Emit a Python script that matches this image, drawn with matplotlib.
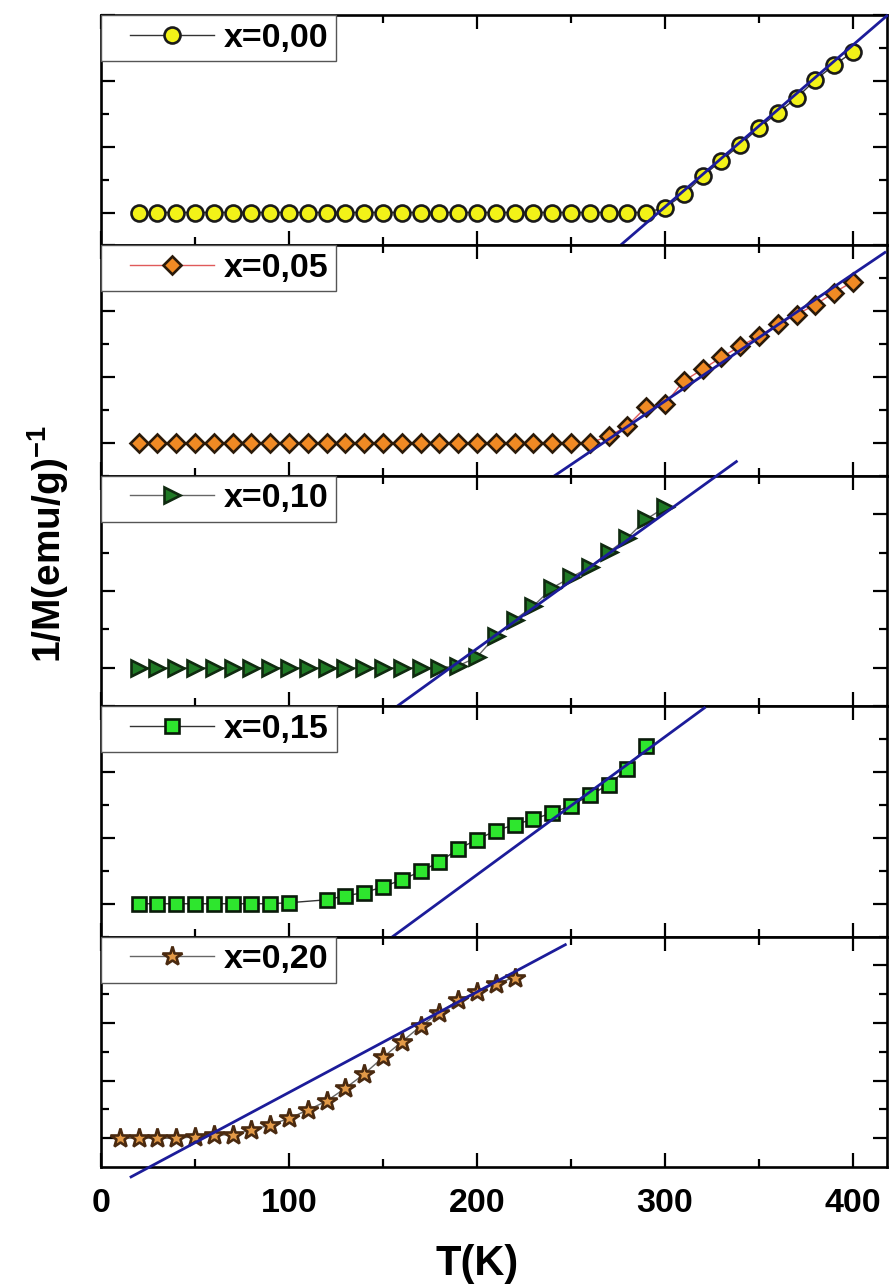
import matplotlib
matplotlib.use("Agg")
import matplotlib.pyplot as plt
from matplotlib.legend_handler import HandlerLine2D
import numpy as np

plt.rcParams['font.family'] = ['Liberation Sans', 'DejaVu Sans']
plt.rcParams['font.weight'] = 'bold'
plt.rcParams['mathtext.fontset'] = 'custom'
plt.rcParams['mathtext.rm'] = 'Liberation Sans:bold'
plt.rcParams['mathtext.bf'] = 'Liberation Sans:bold'
plt.rcParams['mathtext.default'] = 'bf'

# x = 0,00
T_a = [20, 30, 40, 50, 60, 70, 80, 90, 100, 110, 120, 130, 140, 150, 160, 170, 180, 190, 200,
       210, 220, 230, 240, 250, 260, 270, 280, 290, 300, 310, 320, 330, 340, 350, 360, 370,
       380, 390, 400]
M_a = [0, 0, 0, 0, 0, 0, 0, 0, 0, 0, 0, 0, 0, 0, 0, 0, 0, 0, 0,
       0, 0, 0, 0, 0, 0, 0, 0, 0, 0.15, 0.55, 1.10, 1.58, 2.06, 2.58, 3.03, 3.48,
       4.03, 4.48, 4.88]

# x = 0,05
T_b = [20, 30, 40, 50, 60, 70, 80, 90, 100, 110, 120, 130, 140, 150, 160, 170, 180, 190, 200,
       210, 220, 230, 240, 250, 260, 270, 280, 290, 300, 310, 320, 330, 340, 350, 360, 370,
       380, 390, 400]
M_b = [0, 0, 0, 0, 0, 0, 0, 0, 0, 0, 0, 0, 0, 0, 0, 0, 0, 0, 0,
       0, 0, 0, 0, 0, 0, 0.20, 0.52, 1.09, 1.18, 1.88, 2.24, 2.60, 2.94, 3.24, 3.60, 3.90,
       4.20, 4.57, 4.90]

# x = 0,10
T_c = [20, 30, 40, 50, 60, 70, 80, 90, 100, 110, 120, 130, 140, 150, 160, 170, 180, 190, 200,
       210, 220, 230, 240, 250, 260, 270, 280, 290, 300]
M_c = [0, 0, 0, 0, 0, 0, 0, 0, 0, 0, 0, 0, 0, 0, 0, 0, 0, 0.05, 0.28,
       0.83, 1.25, 1.61, 2.08, 2.36, 2.62, 3.01, 3.38, 3.87, 4.18]

# x = 0,15
T_d = [20, 30, 40, 50, 60, 70, 80, 90, 100, 120, 130, 140, 150, 160, 170, 180, 190, 200,
       210, 220, 230, 240, 250, 260, 270, 280, 290]
M_d = [0, 0, 0, 0, 0, 0, 0, 0, 0.03, 0.12, 0.24, 0.34, 0.51, 0.73, 0.98, 1.27, 1.66, 1.95,
       2.22, 2.40, 2.57, 2.76, 2.98, 3.29, 3.62, 4.10, 4.78]

# x = 0,20
T_e = [10, 20, 30, 40, 50, 60, 70, 80, 90, 100, 110, 120, 130, 140, 150, 160, 170, 180, 190,
       200, 210, 220]
M_e = [0, 0, 0, 0, 0.05, 0.10, 0.13, 0.28, 0.46, 0.69, 0.98, 1.29, 1.74, 2.23, 2.81, 3.35,
       3.89, 4.36, 4.79, 5.09, 5.37, 5.58]

labels = ["x=0,00", "x=0,05", "x=0,10", "x=0,15", "x=0,20"]
T_all = [T_a, T_b, T_c, T_d, T_e]
M_all = [M_a, M_b, M_c, M_d, M_e]

# linear fits (Curie-Weiss): slope, intercept, T range
fit_slope = [0.0492, 0.0386, 0.0353, 0.0419, 0.0349]
fit_icpt = [-14.59, -10.31, -6.56, -7.50, -1.90]
fit_tmin = [275, 233, 148, 146, 16]
fit_tmax = [418, 417, 338, 321, 247]

ylims = [(-1, 6), (-1, 6), (-1, 5), (-1, 6), (-1, 7)]

markers = ['o', 'D', '>', 's', '*']
msizes = [11.5, 9.5, 12, 10, 15]
faces = ['#f2f218', '#f08a24', '#1f7a25', '#2ee62e', '#e39a48']
edges = ['#1a1a1a', '#2a1a0a', '#102a10', '#0a1a0a', '#4a2a10']
linecols = ['#333333', '#e05a5a', '#666666', '#333333', '#666666']
fitcol = '#1c1c9a'

fig = plt.figure(figsize=(8.89, 12.86), dpi=100)
gs = fig.add_gridspec(5, 1, left=0.1136, right=0.9975, top=0.9883, bottom=0.0925, hspace=0)

for i in range(5):
    ax = fig.add_subplot(gs[i])
    ax.plot(T_all[i], M_all[i], color=linecols[i], lw=1.0, marker=markers[i],
            ms=msizes[i], mfc=faces[i], mec=edges[i], mew=1.9, label=labels[i], zorder=3)
    tt = np.array([fit_tmin[i], fit_tmax[i]])
    ax.plot(tt, fit_slope[i] * tt + fit_icpt[i], color=fitcol, lw=2.0, zorder=4, clip_on=False)

    ax.set_xlim(0, 418)
    ax.set_ylim(*ylims[i])
    ax.set_xticks([0, 100, 200, 300, 400])
    ax.set_xticks([50, 150, 250, 350], minor=True)
    ax.set_yticks(range(0, ylims[i][1] + 1, 2))
    ax.set_yticks(range(1, ylims[i][1] + 1, 2), minor=True)
    ax.set_yticklabels([])
    ax.tick_params(which='both', direction='in', top=True, right=True, width=1.6)
    ax.tick_params(which='major', length=10)
    ax.tick_params(which='minor', length=6)
    for s in ax.spines.values():
        s.set_linewidth(1.9)
    if i < 4:
        ax.set_xticklabels([])
    else:
        ax.tick_params(axis='x', labelsize=24.5, pad=15)

    leg = ax.legend(loc='upper left', borderaxespad=0, fontsize=24.5, fancybox=False,
                    framealpha=1, edgecolor='#555555', borderpad=0.22,
                    handlelength=3.1, handletextpad=0.3,
                    handler_map={matplotlib.lines.Line2D: HandlerLine2D(numpoints=1, xpad=0.62)})
    leg.get_frame().set_linewidth(1.0)
    leg.set_zorder(5)

fig.text(477 / 889, 1 - 1264 / 1286, "T(K)", ha='center', va='center', fontsize=30)
fig.text(48 / 889, 1 - 544 / 1286, "1/M(emu/g)$^{-1}$", ha='center', va='center',
         rotation=90, fontsize=28)

fig.savefig("out.png", dpi=100)
